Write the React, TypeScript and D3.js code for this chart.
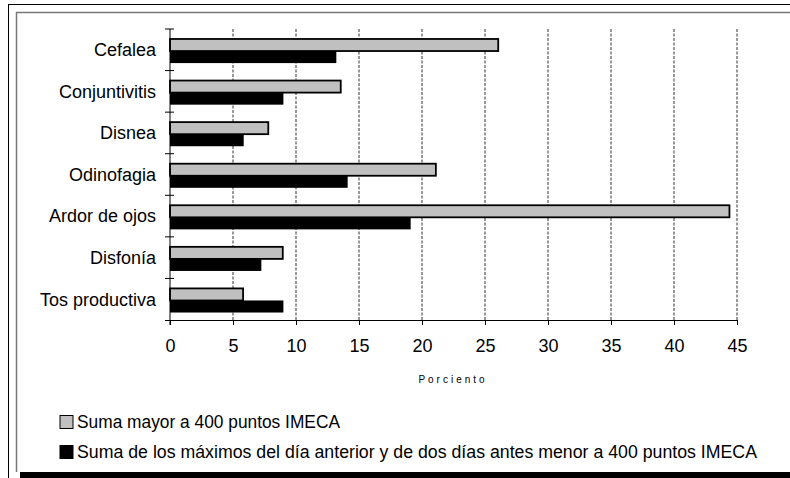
import * as d3 from "d3";
import React, { useEffect, useRef } from "react";

const categories = [
  "Cefalea",
  "Conjuntivitis",
  "Disnea",
  "Odinofagia",
  "Ardor de ojos",
  "Disfonía",
  "Tos productiva",
];
const seriesNames = [
  "Suma mayor a 400 puntos IMECA",
  "Suma de los máximos del día anterior y de dos días antes menor a 400 puntos IMECA",
];
const mayor400 = [26.05, 13.55, 7.8, 21.1, 44.4, 8.95, 5.8];
const menor400 = [13.2, 9.0, 5.85, 14.1, 19.1, 7.25, 9.0];
const xTicks = [0, 5, 10, 15, 20, 25, 30, 35, 40, 45];
const axisTitle = "Porciento";

const W = 790;
const H = 478;
const FONT = "'Liberation Sans', Arial, sans-serif";

const App: React.FC = () => {
  const svgRef = useRef<SVGSVGElement>(null);

  useEffect(() => {
    const svg = d3.select(svgRef.current);
    svg.selectAll("*").remove();

    // frames
    svg.append("rect").attr("x", 20).attr("y", 472).attr("width", W - 20).attr("height", 6).attr("fill", "#000");
    svg.append("line").attr("x1", 8).attr("x2", W).attr("y1", 4.5).attr("y2", 4.5).attr("stroke", "#000");
    svg.append("line").attr("x1", 8.5).attr("x2", 8.5).attr("y1", 4).attr("y2", H).attr("stroke", "#000");
    svg.append("line").attr("x1", 16).attr("x2", W).attr("y1", 12.5).attr("y2", 12.5).attr("stroke", "#777").attr("stroke-width", 1.5);
    svg.append("line").attr("x1", 16.5).attr("x2", 16.5).attr("y1", 12).attr("y2", 472).attr("stroke", "#777").attr("stroke-width", 1.5);

    const x = d3.scaleLinear().domain([0, 45]).range([170, 737]);
    const y = d3.scaleBand<string>().domain(categories).range([29, 320]).padding(0);
    const bw = y.bandwidth();
    const sub = d3
      .scaleBand<number>()
      .domain([0, 1])
      .range([bw * 0.24, bw * 0.82]);

    // dashed grid
    svg
      .append("g")
      .selectAll("line")
      .data(xTicks.slice(1))
      .join("line")
      .attr("x1", (d) => x(d))
      .attr("x2", (d) => x(d))
      .attr("y1", 29)
      .attr("y2", 320)
      .attr("stroke", "#333")
      .attr("stroke-dasharray", "3,1.5");

    // bars
    const rows = categories.map((c, i) => ({ c, v: [mayor400[i], menor400[i]] }));
    const g = svg.append("g");
    g.selectAll("rect.menor")
      .data(rows)
      .join("rect")
      .attr("class", "menor")
      .attr("x", x(0))
      .attr("y", (d) => (y(d.c) as number) + (sub(1) as number))
      .attr("width", (d) => x(d.v[1]) - x(0))
      .attr("height", sub.bandwidth())
      .attr("fill", "#000");
    g.selectAll("rect.mayor")
      .data(rows)
      .join("rect")
      .attr("class", "mayor")
      .attr("x", x(0))
      .attr("y", (d) => (y(d.c) as number) + (sub(0) as number))
      .attr("width", (d) => x(d.v[0]) - x(0))
      .attr("height", sub.bandwidth())
      .attr("fill", "#c0c0c0")
      .attr("stroke", "#000")
      .attr("stroke-width", 1.8);

    // x axis
    svg
      .append("g")
      .attr("transform", "translate(0,320)")
      .call(d3.axisBottom(x).tickValues(xTicks).tickSize(5).tickSizeOuter(0).tickPadding(14))
      .call((s) => s.select(".domain").attr("d", `M165,0.5H${x(45)}`).attr("stroke", "#000"))
      .call((s) => s.selectAll("text").attr("font-size", 18).attr("font-family", FONT).attr("fill", "#000"));

    // y axis
    const yb = svg.append("g");
    yb.append("line").attr("x1", 170).attr("x2", 170).attr("y1", 29).attr("y2", 325).attr("stroke", "#000");
    const bounds = categories.map((c) => y(c) as number);
    yb.selectAll("line.tick")
      .data(bounds)
      .join("line")
      .attr("class", "tick")
      .attr("x1", 165)
      .attr("x2", 174)
      .attr("y1", (d) => d)
      .attr("y2", (d) => d)
      .attr("stroke", "#000");
    yb.selectAll("text")
      .data(categories)
      .join("text")
      .attr("x", 156)
      .attr("y", (d) => (y(d) as number) + bw / 2)
      .attr("dy", "0.35em")
      .attr("text-anchor", "end")
      .attr("font-size", 18)
      .attr("font-family", FONT)
      .text((d) => d);

    svg
      .append("text")
      .attr("x", 453)
      .attr("y", 383)
      .attr("text-anchor", "middle")
      .attr("font-size", 10)
      .attr("letter-spacing", 3)
      .attr("font-family", FONT)
      .text(axisTitle);

    // legend
    const legendY = [422, 452];
    const legendW = [263, 680];
    const lg = svg.append("g");
    lg.selectAll("rect")
      .data(seriesNames)
      .join("rect")
      .attr("x", 60)
      .attr("y", (_, i) => legendY[i] - 6.5)
      .attr("width", 13)
      .attr("height", 13)
      .attr("fill", (_, i) => (i === 0 ? "#c0c0c0" : "#000"))
      .attr("stroke", "#000")
      .attr("stroke-width", 1);
    lg.selectAll("text")
      .data(seriesNames)
      .join("text")
      .attr("x", 77)
      .attr("y", (_, i) => legendY[i])
      .attr("dy", "0.36em")
      .attr("font-size", 17.5)
      .attr("font-family", FONT)
      .attr("textLength", (_, i) => legendW[i])
      .attr("lengthAdjust", "spacingAndGlyphs")
      .text((d) => d);
  }, []);

  return (
    <svg
      ref={svgRef}
      width={W}
      height={H}
      style={{ position: "absolute", left: 0, top: 0, background: "#fff" }}
    />
  );
};

export default App;
